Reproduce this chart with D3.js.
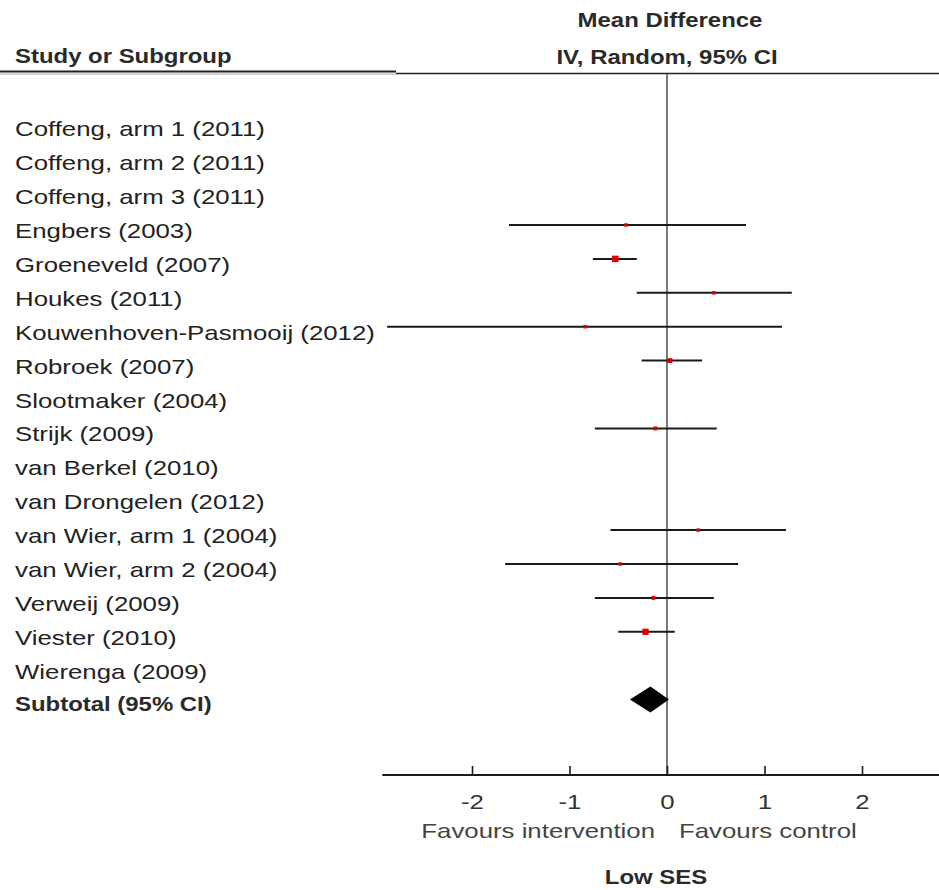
<!DOCTYPE html>
<html>
<head>
<meta charset="utf-8">
<script src="https://cdn.jsdelivr.net/npm/d3@7"></script>
<style>
  html, body { margin: 0; padding: 0; background: #fff; }
  svg { display: block; }
</style>
</head>
<body>
<div id="chart"></div>
<script>
// ---- data ----
const studies = [
  "Coffeng, arm 1 (2011)",
  "Coffeng, arm 2 (2011)",
  "Coffeng, arm 3 (2011)",
  "Engbers (2003)",
  "Groeneveld (2007)",
  "Houkes (2011)",
  "Kouwenhoven-Pasmooij (2012)",
  "Robroek (2007)",
  "Slootmaker (2004)",
  "Strijk (2009)",
  "van Berkel (2010)",
  "van Drongelen (2012)",
  "van Wier, arm 1 (2004)",
  "van Wier, arm 2 (2004)",
  "Verweij (2009)",
  "Viester (2010)",
  "Wierenga (2009)"
];
const subtotalLabel = "Subtotal (95% CI)";
// mean difference, lower CI, upper CI, weight (null = not estimable in this subgroup)
const md    = [null, null, null, -0.42, -0.53,  0.48, -0.84, 0.03, null, -0.12, null, null,  0.32, -0.48, -0.14, -0.22, null];
const lower = [null, null, null, -1.62, -0.76, -0.31, -2.87, -0.26, null, -0.74, null, null, -0.58, -1.66, -0.74, -0.50, null];
const upper = [null, null, null,  0.81, -0.31,  1.28,  1.18, 0.36, null,  0.51, null, null,  1.22,  0.73,  0.48,  0.08, null];
const weight= [null, null, null,  3.5,  14,     4,     3,    8,    null,  5,    null, null,  3.5,   3,     5,     13,   null];
const subtotal = { md: -0.17, lower: -0.38, upper: 0.02 };
const tickValues = [-2, -1, 0, 1, 2];
const tickLabels = ["-2", "-1", "0", "1", "2"];
const axisExtent = [-2.92, 2.8];
const headerTitle = "Mean Difference";
const headerSub = "IV, Random, 95% CI";
const headerLeft = "Study or Subgroup";
const favLeft = "Favours intervention";
const favRight = "Favours control";
const footer = "Low SES";

// ---- layout ----
const W = 939, H = 890;
const SX = 1.29;      // horizontal stretch of regular text
const SXB = 1.14;     // horizontal stretch of bold text
const FONT = "'Liberation Sans', Arial, Helvetica, sans-serif";

const svg = d3.select("#chart").append("svg")
  .attr("width", W).attr("height", H)
  .attr("viewBox", `0 0 ${W} ${H}`);
svg.append("rect").attr("width", W).attr("height", H).attr("fill", "#fff");

const x = d3.scaleLinear().domain([-2, 2]).range([472, 862]);
const rowNames = studies.concat([subtotalLabel]);
const y = d3.scalePoint().domain(rowNames).range([123.3, 699.6]);
const axisY = 775;
const headerLineY = 72;

function txt(g, px, py, s, o) {
  o = o || {};
  return g.append("text")
    .attr("transform", `translate(${px},${py}) scale(${o.sx || SX},1)`)
    .attr("text-anchor", o.anchor || "start")
    .attr("font-family", FONT)
    .attr("font-size", o.size || 20)
    .attr("font-weight", o.bold ? "bold" : "normal")
    .attr("fill", o.fill || "#222")
    .text(s);
}
const boldOpts = { bold: true, sx: SXB, size: 21, fill: "#2a2a2a" };

// header
txt(svg, 15, 63, headerLeft, boldOpts);
txt(svg, 670, 27, headerTitle, Object.assign({}, boldOpts, { anchor: "middle" }));
txt(svg, 667, 64, headerSub, Object.assign({}, boldOpts, { anchor: "middle" }));

// header rules
svg.append("line").attr("x1", 0).attr("x2", 396).attr("y1", headerLineY - 0.5).attr("y2", headerLineY - 0.5)
  .attr("stroke", "#222").attr("stroke-width", 2);
svg.append("line").attr("x1", 0).attr("x2", 396).attr("y1", headerLineY + 2).attr("y2", headerLineY + 2)
  .attr("stroke", "#aaa").attr("stroke-width", 1);
svg.append("line").attr("x1", 396).attr("x2", W).attr("y1", headerLineY + 1.5).attr("y2", headerLineY + 1.5)
  .attr("stroke", "#222").attr("stroke-width", 1.6);

// zero line
svg.append("line").attr("x1", x(0)).attr("x2", x(0)).attr("y1", headerLineY + 2).attr("y2", axisY)
  .attr("stroke", "#7a7a7a").attr("stroke-width", 2);

// study labels
const labels = svg.append("g");
studies.forEach(s => txt(labels, 15, y(s) + 13, s, {}));
txt(labels, 15, y(subtotalLabel) + 11, subtotalLabel, boldOpts);

// CI lines and squares
const size = d3.scaleSqrt().domain([0, d3.max(weight)]).range([0, 6.5]);
const marks = svg.append("g");
studies.forEach((s, i) => {
  if (md[i] === null) return;
  marks.append("line")
    .attr("x1", x(lower[i])).attr("x2", x(upper[i]))
    .attr("y1", y(s)).attr("y2", y(s))
    .attr("stroke", "#1a1a1a").attr("stroke-width", 2);
});
studies.forEach((s, i) => {
  if (md[i] === null) return;
  const sz = Math.max(3.5, size(weight[i]));
  marks.append("rect")
    .attr("x", x(md[i]) - sz / 2).attr("y", y(s) - sz / 2)
    .attr("width", sz).attr("height", sz)
    .attr("fill", "#e00000");
});

// subtotal diamond
const dy0 = y(subtotalLabel), dh = 13;
marks.append("path")
  .attr("d", `M${x(subtotal.lower)},${dy0} L${x(subtotal.md)},${dy0 - dh} L${x(subtotal.upper)},${dy0} L${x(subtotal.md)},${dy0 + dh} Z`)
  .attr("fill", "#000");

// axis
const axisG = svg.append("g").attr("transform", `translate(0,${axisY})`);
axisG.call(d3.axisBottom(x).tickValues(tickValues).tickSizeInner(-9).tickSizeOuter(0)
  .tickFormat((d, i) => tickLabels[i]));
axisG.select(".domain").remove();
axisG.append("line").attr("x1", x(axisExtent[0])).attr("x2", x(axisExtent[1]))
  .attr("y1", 0).attr("y2", 0).attr("stroke", "#1a1a1a").attr("stroke-width", 2);
axisG.selectAll(".tick line").attr("stroke", "#1a1a1a").attr("stroke-width", 1.6);
axisG.selectAll(".tick text")
  .attr("y", 34).attr("dy", 0)
  .attr("transform", `scale(${SX},1)`)
  .attr("font-family", FONT).attr("font-size", 20).attr("fill", "#333");

// favours labels
txt(svg, 655, 838, favLeft, { anchor: "end", fill: "#444" });
txt(svg, 679, 838, favRight, { anchor: "start", fill: "#444" });

// footer
txt(svg, 656, 884, footer, Object.assign({}, boldOpts, { anchor: "middle" }));
</script>
</body>
</html>
